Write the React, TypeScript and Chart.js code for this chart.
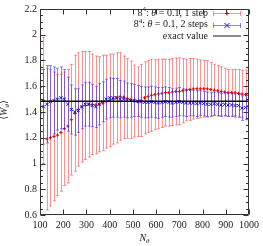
import React, { useEffect, useRef } from "react";
import { Chart, registerables } from "chart.js";
Chart.register(...registerables);

const N_THETA = [
  100, 115, 130, 145, 160, 175, 190, 205, 220, 235,
  250, 265, 280, 295, 310, 325, 340, 355, 370, 385,
  400, 415, 430, 445, 460, 475, 490, 505, 520, 535,
  550, 565, 580, 595, 610, 625, 640, 655, 670, 685,
  700, 715, 730, 745, 760, 775, 790, 805, 820, 835,
  850, 865, 880, 895, 910, 925, 940, 955, 970, 985, 1000,
];
const ONE_STEP_MEAN = [
  1.59, 1.49, 1.19, 1.2, 1.21, 1.22, 1.24, 1.27, 1.29, 1.34,
  1.39, 1.42, 1.44, 1.45, 1.46, 1.46, 1.455, 1.46, 1.47, 1.48,
  1.49, 1.5, 1.51, 1.52, 1.515, 1.505, 1.495, 1.485, 1.48, 1.49,
  1.51, 1.52, 1.53, 1.535, 1.54, 1.545, 1.55, 1.55, 1.555, 1.56,
  1.56, 1.565, 1.57, 1.575, 1.58, 1.58, 1.58, 1.58, 1.58, 1.575,
  1.57, 1.565, 1.56, 1.555, 1.55, 1.55, 1.55, 1.545, 1.54, 1.535, 1.53,
];
const ONE_STEP_ERR = [
  0.61, 0.49, 0.55, 0.53, 0.5, 0.47, 0.455, 0.44, 0.44, 0.43,
  0.45, 0.44, 0.43, 0.42, 0.41, 0.39, 0.38, 0.37, 0.37, 0.36,
  0.36, 0.35, 0.35, 0.34, 0.32, 0.31, 0.3, 0.28, 0.27, 0.28,
  0.28, 0.28, 0.28, 0.27, 0.27, 0.265, 0.26, 0.26, 0.26, 0.26,
  0.26, 0.25, 0.24, 0.24, 0.235, 0.23, 0.225, 0.22, 0.22, 0.21,
  0.2, 0.195, 0.19, 0.185, 0.18, 0.18, 0.18, 0.185, 0.185, 0.19, 0.19,
];
const TWO_STEP_MEAN = [
  1.4, 1.44, 1.46, 1.48, 1.49, 1.5, 1.51, 1.5, 1.46, 1.42,
  1.4, 1.41, 1.44, 1.46, 1.46, 1.45, 1.44, 1.46, 1.48, 1.5,
  1.51, 1.51, 1.51, 1.5, 1.5, 1.49, 1.49, 1.49, 1.485, 1.48,
  1.475, 1.475, 1.48, 1.475, 1.47, 1.475, 1.48, 1.475, 1.47, 1.475,
  1.48, 1.475, 1.47, 1.47, 1.47, 1.465, 1.47, 1.465, 1.46, 1.46,
  1.465, 1.46, 1.455, 1.46, 1.455, 1.455, 1.45, 1.45, 1.43, 1.435, 1.44,
];
const TWO_STEP_ERR = [
  0.33, 0.29, 0.3, 0.28, 0.26, 0.24, 0.24, 0.23, 0.21, 0.19,
  0.18, 0.17, 0.17, 0.17, 0.17, 0.165, 0.16, 0.16, 0.155, 0.155,
  0.155, 0.15, 0.15, 0.145, 0.14, 0.135, 0.13, 0.125, 0.12, 0.12,
  0.12, 0.12, 0.12, 0.12, 0.12, 0.115, 0.115, 0.115, 0.11, 0.11,
  0.11, 0.105, 0.105, 0.1, 0.1, 0.1, 0.095, 0.095, 0.095, 0.09,
  0.09, 0.09, 0.09, 0.09, 0.09, 0.09, 0.09, 0.09, 0.095, 0.095, 0.095,
];
const EXACT_VALUE = 1.483;
const X_RANGE = [100, 1000];
const Y_RANGE = [0.6, 2.2];
const X_STEP = 100;
const Y_STEP = 0.2;
const Y_MINOR = 0.05;
const LEGEND_LABELS = [" = 0.1, 1 step", " = 0.1, 2 steps", "exact value"];

const FONT = '"Liberation Serif", "DejaVu Serif", serif';
const TEXT = "#222";
const RED_BAR = "rgba(255,40,40,0.5)";
const BLUE_BAR = "rgba(40,40,255,0.55)";
const RED_PT = "#e00000";
const BLUE_PT = "#1010f0";
const EXACT_COL = "#111";

type Seg = { t: string; italic?: boolean; size?: number; dy?: number };
function segsWidth(ctx: CanvasRenderingContext2D, segs: Seg[], base: number) {
  let w = 0;
  for (const s of segs) {
    ctx.font = `${s.italic ? "italic " : ""}${s.size ?? base}px ${FONT}`;
    w += ctx.measureText(s.t).width;
  }
  return w;
}
function drawSegs(ctx: CanvasRenderingContext2D, segs: Seg[], x: number, y: number, base: number) {
  let cx = x;
  for (const s of segs) {
    ctx.font = `${s.italic ? "italic " : ""}${s.size ?? base}px ${FONT}`;
    ctx.fillText(s.t, cx, y + (s.dy ?? 0));
    cx += ctx.measureText(s.t).width;
  }
}

function drawErrBar(ctx: CanvasRenderingContext2D, px: number, y1: number, y2: number) {
  ctx.beginPath();
  ctx.moveTo(px, y1);
  ctx.lineTo(px, y2);
  ctx.moveTo(px - 1.5, y1);
  ctx.lineTo(px + 1.5, y1);
  ctx.moveTo(px - 1.5, y2);
  ctx.lineTo(px + 1.5, y2);
  ctx.stroke();
}

const errorBarPlugin = {
  id: "errbars",
  beforeDatasetDraw(chart: any, args: any) {
    const ds = chart.data.datasets[args.index];
    const errs: number[] | undefined = ds.errs;
    if (!errs) return;
    const { ctx, chartArea: a, scales } = chart;
    const x = scales.x, y = scales.y;
    ctx.save();
    ctx.beginPath();
    ctx.rect(a.left, a.top, a.right - a.left, a.bottom - a.top);
    ctx.clip();
    ctx.strokeStyle = ds.errColor;
    ctx.lineWidth = 1;
    ds.data.forEach((p: any, i: number) => {
      const px = Math.round(x.getPixelForValue(p.x)) + 0.5;
      const y1 = y.getPixelForValue(p.y + errs[i]);
      const y2 = y.getPixelForValue(p.y - errs[i]);
      drawErrBar(ctx, px, y1, y2);
    });
    ctx.restore();
  },
};

const frameAndTextPlugin = {
  id: "frameText",
  afterDatasetsDraw(chart: any) {
    const { ctx, chartArea: a, scales } = chart;
    const x = scales.x, y = scales.y;
    ctx.save();
    ctx.strokeStyle = "#333";
    ctx.lineWidth = 1;
    const L = a.left + 0.5, R = a.right - 0.5, T = a.top + 0.5, B = a.bottom - 0.5;
    ctx.beginPath();
    ctx.rect(L, T, R - L, B - T);
    x.ticks.forEach((t: any) => {
      const px = Math.round(x.getPixelForValue(t.value)) + 0.5;
      ctx.moveTo(px, B); ctx.lineTo(px, B - 5);
      ctx.moveTo(px, T); ctx.lineTo(px, T + 5);
    });
    y.ticks.forEach((t: any, i: number) => {
      const py = Math.round(y.getPixelForValue(t.value)) + 0.5;
      ctx.moveTo(L, py); ctx.lineTo(L + 5, py);
      ctx.moveTo(R, py); ctx.lineTo(R - 5, py);
      if (i < y.ticks.length - 1) {
        for (let k = 1; k < Math.round(Y_STEP / Y_MINOR); k++) {
          const my = Math.round(y.getPixelForValue(t.value + k * Y_MINOR)) + 0.5;
          ctx.moveTo(L, my); ctx.lineTo(L + 2.5, my);
          ctx.moveTo(R, my); ctx.lineTo(R - 2.5, my);
        }
      }
    });
    ctx.stroke();

    ctx.fillStyle = TEXT;
    ctx.textBaseline = "middle";
    ctx.textAlign = "left";
    const rowsY = [13, 24.5, 36];
    const rightText = 208;
    const s0 = 213, s1 = 241, sm = (s0 + s1) / 2;
    const rows: Seg[][] = [
      [{ t: "8" }, { t: "4", size: 7, dy: -3.5 }, { t: ": " }, { t: "θ", italic: true }, { t: LEGEND_LABELS[0] }],
      [{ t: "8" }, { t: "4", size: 7, dy: -3.5 }, { t: ": " }, { t: "θ", italic: true }, { t: LEGEND_LABELS[1] }],
      [{ t: LEGEND_LABELS[2] }],
    ];
    rows.forEach((segs, i) => {
      const w = segsWidth(ctx, segs, 10);
      drawSegs(ctx, segs, rightText - w, rowsY[i], 10);
    });
    ctx.lineWidth = 1;
    ctx.strokeStyle = RED_BAR;
    let yy = Math.round(rowsY[0]) + 0.5;
    ctx.beginPath();
    ctx.moveTo(s0, yy); ctx.lineTo(s1, yy);
    ctx.moveTo(s0 + 0.5, yy - 2.5); ctx.lineTo(s0 + 0.5, yy + 2.5);
    ctx.moveTo(s1 - 0.5, yy - 2.5); ctx.lineTo(s1 - 0.5, yy + 2.5);
    ctx.stroke();
    ctx.strokeStyle = RED_PT;
    ctx.beginPath();
    ctx.moveTo(sm, yy - 2); ctx.lineTo(sm, yy + 2);
    ctx.moveTo(sm - 2, yy); ctx.lineTo(sm + 2, yy);
    ctx.stroke();
    ctx.strokeStyle = BLUE_BAR;
    yy = Math.round(rowsY[1]) + 0.5;
    ctx.beginPath();
    ctx.moveTo(s0, yy); ctx.lineTo(s1, yy);
    ctx.moveTo(s0 + 0.5, yy - 2.5); ctx.lineTo(s0 + 0.5, yy + 2.5);
    ctx.moveTo(s1 - 0.5, yy - 2.5); ctx.lineTo(s1 - 0.5, yy + 2.5);
    ctx.stroke();
    ctx.strokeStyle = BLUE_PT;
    ctx.beginPath();
    ctx.moveTo(sm - 2.5, yy - 2.5); ctx.lineTo(sm + 2.5, yy + 2.5);
    ctx.moveTo(sm - 2.5, yy + 2.5); ctx.lineTo(sm + 2.5, yy - 2.5);
    ctx.stroke();
    ctx.strokeStyle = "#666";
    ctx.lineWidth = 1.5;
    yy = rowsY[2];
    ctx.beginPath();
    ctx.moveTo(s0, yy); ctx.lineTo(s1, yy);
    ctx.stroke();

    ctx.fillStyle = TEXT;
    const xt: Seg[] = [{ t: "N", italic: true }, { t: "θ", italic: true, size: 7, dy: 3 }];
    const xw = segsWidth(ctx, xt, 10);
    drawSegs(ctx, xt, (a.left + a.right) / 2 - xw / 2, 238.5, 10);

    const yt: Seg[] = [{ t: "⟨" }, { t: "W", italic: true }, { t: "θ", italic: true, size: 7, dy: 2.5 }, { t: "⟩" }];
    const yw = segsWidth(ctx, yt, 10);
    ctx.translate(4.5, 110);
    ctx.rotate(-Math.PI / 2);
    drawSegs(ctx, yt, -yw / 2, 0, 10);
    ctx.restore();
  },
};

export default function App() {
  const ref = useRef<HTMLCanvasElement | null>(null);
  useEffect(() => {
    if (!ref.current) return;
    const chart = new Chart(ref.current, {
      type: "scatter",
      data: {
        datasets: [
          {
            label: "exact",
            type: "line",
            data: [
              { x: X_RANGE[0], y: EXACT_VALUE },
              { x: X_RANGE[1], y: EXACT_VALUE },
            ],
            borderColor: EXACT_COL,
            borderWidth: 1.5,
            pointRadius: 0,
            order: 1,
          } as any,
          {
            label: "2 steps",
            data: N_THETA.map((n, i) => ({ x: n, y: TWO_STEP_MEAN[i] })),
            errs: TWO_STEP_ERR,
            errColor: BLUE_BAR,
            pointStyle: "crossRot",
            pointRadius: 2.2,
            borderColor: BLUE_PT,
            backgroundColor: BLUE_PT,
            borderWidth: 1,
            order: 2,
          } as any,
          {
            label: "1 step",
            data: N_THETA.map((n, i) => ({ x: n, y: ONE_STEP_MEAN[i] })),
            errs: ONE_STEP_ERR,
            errColor: RED_BAR,
            pointStyle: "cross",
            pointRadius: 1.6,
            borderColor: RED_PT,
            backgroundColor: RED_PT,
            borderWidth: 1,
            order: 3,
          } as any,
        ],
      },
      options: {
        animation: false,
        responsive: false,
        devicePixelRatio: 1,
        layout: { padding: { top: 4, right: 11, left: 0, bottom: 0 } },
        plugins: { legend: { display: false }, tooltip: { enabled: false } },
        events: [],
        scales: {
          x: {
            type: "linear",
            min: X_RANGE[0],
            max: X_RANGE[1],
            grid: { display: false, drawTicks: false },
            border: { display: false },
            ticks: {
              stepSize: X_STEP,
              autoSkip: false,
              maxRotation: 0,
              padding: 4,
              color: TEXT,
              font: { family: FONT, size: 10 },
              callback: (v: any) => String(Math.round(Number(v))),
            },
            afterFit: (s: any) => { s.height = 31; },
          },
          y: {
            min: Y_RANGE[0],
            max: Y_RANGE[1],
            grid: { display: false, drawTicks: false },
            border: { display: false },
            ticks: {
              stepSize: Y_STEP,
              padding: 3,
              color: TEXT,
              font: { family: FONT, size: 10 },
              callback: (v: any) => String(Number(Number(v).toFixed(2))),
            },
            afterFit: (s: any) => { s.width = 40; },
          },
        },
      } as any,
      plugins: [errorBarPlugin, frameAndTextPlugin],
    });
    return () => chart.destroy();
  }, []);
  return (
    <div style={{ position: "fixed", left: 0, top: 0, width: 263, height: 246, background: "#fff" }}>
      <canvas ref={ref} width={263} height={246} style={{ display: "block" }} />
    </div>
  );
}
